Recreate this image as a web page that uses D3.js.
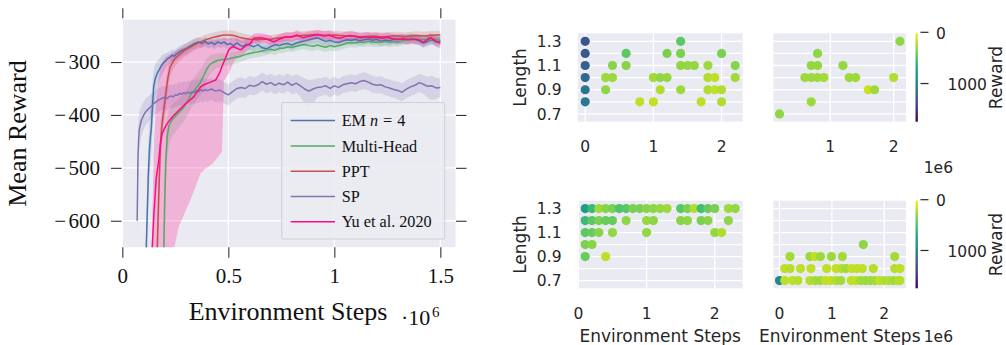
<!DOCTYPE html>
<html>
<head>
<meta charset="utf-8">
<script src="https://cdn.jsdelivr.net/npm/d3@7"></script>
<style>
  html, body { margin: 0; padding: 0; background: #ffffff; }
  svg { display: block; }
</style>
</head>
<body>
<svg id="fig" width="1006" height="345"></svg>
<script>
// ---------------------------------------------------------------
// Learning curves: [environment steps (1e6), mean reward, lower, upper]
// ---------------------------------------------------------------
const emCurve = [
  [0.108,-720,-760,-680],[0.113,-650,-700,-600],[0.118,-580,-640,-520],[0.123,-510,-570,-450],
  [0.128,-465,-520,-410],[0.133,-440,-490,-385],[0.137,-425,-470,-365],[0.142,-385,-430,-340],
  [0.148,-347,-385,-318],[0.155,-332,-365,-305],[0.165,-321,-348,-298],[0.175,-314,-336,-294],
  [0.185,-306,-326,-288],[0.195,-301,-318,-285],[0.205,-298,-312,-284],[0.212,-294,-307,-282],
  [0.225,-291,-303,-280],[0.235,-287,-299,-276],[0.245,-289,-300,-278],[0.255,-285,-296,-274],
  [0.27,-281,-292,-270],[0.285,-277,-288,-267],[0.30,-275,-285,-265],[0.315,-271,-281,-261],
  [0.33,-267,-277,-257],[0.345,-264,-274,-255],[0.36,-262,-271,-253],[0.375,-265,-274,-256],
  [0.39,-261,-270,-252],[0.405,-266,-275,-257],[0.42,-263,-272,-254],[0.435,-267,-276,-258],
  [0.45,-262,-271,-253],[0.465,-265,-274,-256],[0.48,-262,-271,-253],[0.495,-267,-276,-258],
  [0.51,-265,-274,-256],[0.525,-269,-278,-260],[0.54,-264,-273,-255],[0.555,-268,-277,-259],
  [0.57,-271,-280,-262],[0.585,-266,-275,-257],[0.60,-268,-277,-259],[0.62,-271,-280,-262],
  [0.64,-267,-276,-258],[0.66,-273,-282,-264],[0.68,-275,-284,-266],[0.70,-271,-281,-262],
  [0.72,-267,-276,-258],[0.74,-269,-278,-260],[0.76,-266,-275,-257],[0.78,-265,-274,-256],
  [0.80,-268,-277,-259],[0.82,-264,-273,-255],[0.84,-262,-271,-253],[0.86,-260,-269,-251],
  [0.88,-258,-267,-249],[0.90,-256,-265,-247],[0.92,-254,-263,-245],[0.94,-258,-267,-249],
  [0.96,-261,-270,-252],[0.98,-259,-268,-250],[1.00,-262,-271,-253],[1.02,-263,-272,-254],
  [1.04,-260,-269,-251],[1.06,-258,-267,-249],[1.08,-259,-268,-250],[1.10,-257,-266,-248],
  [1.12,-260,-269,-251],[1.14,-258,-267,-249],[1.16,-256,-265,-247],[1.18,-259,-268,-250],
  [1.20,-257,-266,-248],[1.22,-261,-270,-252],[1.24,-259,-268,-250],[1.26,-260,-269,-251],
  [1.28,-257,-266,-248],[1.30,-258,-267,-249],[1.32,-256,-265,-247],[1.34,-258,-267,-249],
  [1.36,-255,-264,-246],[1.38,-257,-266,-248],[1.40,-260,-269,-251],[1.42,-264,-273,-255],
  [1.44,-261,-270,-252],[1.46,-258,-267,-249],[1.48,-262,-271,-253],[1.50,-260,-269,-251]
];

const multiHeadCurve = [
  [0.190,-720,-760,-680],[0.196,-650,-700,-600],[0.200,-560,-620,-500],[0.205,-490,-540,-440],
  [0.212,-440,-480,-405],[0.22,-420,-455,-390],[0.235,-409,-440,-380],[0.259,-399,-428,-372],
  [0.285,-388,-415,-362],[0.306,-376,-402,-350],[0.322,-362,-388,-337],[0.345,-351,-376,-326],
  [0.369,-338,-362,-314],[0.385,-325,-348,-303],[0.40,-312,-333,-293],[0.415,-304,-322,-287],
  [0.431,-300,-316,-285],[0.45,-297,-311,-284],[0.47,-295,-308,-283],[0.494,-295,-307,-284],
  [0.52,-292,-304,-281],[0.55,-290,-301,-279],[0.572,-287,-298,-277],[0.60,-284,-294,-274],
  [0.62,-282,-292,-272],[0.636,-281,-291,-271],[0.66,-279,-289,-269],[0.68,-277,-287,-268],
  [0.70,-276,-285,-267],[0.72,-278,-287,-269],[0.74,-274,-283,-265],[0.76,-274,-283,-265],
  [0.78,-271,-280,-262],[0.80,-272,-281,-263],[0.82,-270,-279,-261],[0.84,-268,-277,-259],
  [0.86,-267,-276,-258],[0.88,-269,-278,-260],[0.90,-270,-279,-261],[0.92,-268,-277,-259],
  [0.94,-270,-279,-261],[0.96,-272,-281,-263],[0.98,-269,-278,-260],[1.00,-271,-280,-262],
  [1.02,-269,-278,-260],[1.04,-267,-276,-258],[1.06,-264,-273,-255],[1.08,-263,-272,-254],
  [1.10,-264,-273,-255],[1.12,-262,-271,-253],[1.14,-263,-272,-254],[1.16,-261,-270,-252],
  [1.18,-262,-271,-253],[1.20,-263,-272,-254],[1.22,-262,-271,-253],[1.24,-261,-270,-252],
  [1.26,-263,-272,-254],[1.28,-261,-270,-252],[1.30,-262,-271,-253],[1.32,-260,-269,-251],
  [1.34,-258,-267,-249],[1.36,-255,-264,-246],[1.38,-256,-265,-247],[1.40,-258,-267,-249],
  [1.42,-257,-266,-248],[1.44,-259,-268,-250],[1.46,-257,-266,-248],[1.48,-258,-267,-249],
  [1.50,-259,-268,-250]
];

const pptCurve = [
  [0.158,-720,-760,-680],[0.165,-650,-700,-600],[0.172,-550,-610,-500],[0.180,-453,-500,-415],
  [0.188,-415,-450,-385],[0.196,-391,-420,-365],[0.205,-360,-385,-340],[0.215,-330,-352,-312],
  [0.225,-310,-328,-295],[0.245,-295,-310,-282],[0.26,-289,-303,-277],[0.275,-284,-297,-272],
  [0.29,-279,-291,-268],[0.305,-275,-287,-264],[0.32,-272,-283,-261],[0.345,-266,-277,-256],
  [0.369,-262,-273,-252],[0.40,-257,-267,-247],[0.432,-253,-263,-244],[0.455,-251,-260,-242],
  [0.479,-249,-258,-240],[0.50,-249,-258,-240],[0.526,-250,-259,-241],[0.55,-253,-262,-244],
  [0.573,-255,-264,-246],[0.60,-257,-265,-249],[0.636,-258,-266,-250],[0.67,-257,-265,-249],
  [0.70,-257,-265,-249],[0.73,-255,-263,-247],[0.76,-253,-261,-245],[0.79,-252,-260,-244],
  [0.82,-251,-259,-243],[0.85,-250,-258,-242],[0.88,-249,-257,-241],[0.91,-248,-256,-240],
  [0.94,-249,-257,-241],[0.97,-250,-258,-242],[1.00,-249,-257,-241],[1.03,-250,-258,-242],
  [1.06,-251,-259,-243],[1.09,-251,-259,-243],[1.12,-252,-260,-244],[1.15,-252,-260,-244],
  [1.18,-251,-259,-243],[1.21,-252,-260,-244],[1.24,-252,-260,-244],[1.27,-251,-259,-243],
  [1.30,-251,-259,-243],[1.33,-252,-260,-244],[1.36,-251,-259,-243],[1.39,-250,-258,-242],
  [1.42,-251,-259,-243],[1.45,-250,-258,-242],[1.48,-249,-257,-241],[1.50,-249,-257,-241]
];

const spCurve = [
  [0.070,-600,-640,-560],[0.072,-540,-590,-495],[0.074,-480,-525,-440],[0.077,-445,-485,-410],
  [0.080,-428,-465,-395],[0.085,-418,-450,-388],[0.09,-410,-440,-382],[0.10,-401,-428,-375],
  [0.11,-394,-420,-369],[0.12,-390,-415,-366],[0.13,-386,-410,-362],[0.14,-382,-405,-359],
  [0.15,-378,-401,-356],[0.16,-375,-398,-353],[0.17,-372,-395,-350],[0.18,-370,-392,-348],
  [0.19,-368,-390,-346],[0.20,-367,-389,-345],[0.21,-369,-391,-347],[0.22,-366,-388,-344],
  [0.23,-364,-386,-342],[0.24,-366,-388,-344],[0.25,-362,-384,-340],[0.26,-363,-385,-341],
  [0.27,-359,-381,-337],[0.28,-361,-383,-339],[0.29,-358,-380,-336],[0.30,-360,-382,-338],
  [0.31,-357,-379,-335],[0.32,-359,-381,-337],[0.33,-356,-378,-334],[0.34,-358,-380,-336],
  [0.35,-354,-376,-332],[0.36,-356,-378,-334],[0.37,-352,-374,-330],[0.38,-355,-377,-333],
  [0.39,-352,-373,-331],[0.40,-354,-375,-333],[0.42,-351,-372,-330],[0.44,-355,-376,-334],
  [0.46,-353,-374,-332],[0.48,-358,-378,-338],[0.50,-362,-382,-342],[0.52,-356,-375,-337],
  [0.54,-350,-369,-331],[0.56,-348,-367,-329],[0.58,-350,-368,-332],[0.60,-344,-362,-326],
  [0.62,-346,-363,-329],[0.64,-343,-360,-326],[0.66,-337,-354,-320],[0.68,-342,-359,-325],
  [0.70,-339,-356,-322],[0.72,-344,-361,-327],[0.74,-340,-357,-323],[0.76,-343,-360,-326],
  [0.78,-338,-355,-321],[0.80,-344,-362,-327],[0.82,-340,-358,-323],[0.84,-345,-366,-327],
  [0.86,-351,-378,-331],[0.88,-355,-386,-334],[0.90,-351,-378,-333],[0.92,-348,-366,-331],
  [0.94,-347,-364,-330],[0.96,-345,-362,-328],[0.98,-350,-367,-333],[1.00,-345,-362,-328],
  [1.02,-348,-364,-332],[1.04,-343,-359,-327],[1.06,-341,-357,-325],[1.08,-339,-355,-323],
  [1.10,-341,-357,-325],[1.12,-337,-353,-321],[1.14,-335,-351,-319],[1.16,-338,-354,-322],
  [1.18,-342,-358,-326],[1.20,-344,-360,-328],[1.22,-343,-359,-327],[1.24,-347,-363,-331],
  [1.26,-349,-365,-333],[1.28,-352,-368,-336],[1.30,-354,-371,-337],[1.32,-357,-374,-340],
  [1.34,-351,-368,-334],[1.36,-347,-364,-330],[1.38,-344,-361,-327],[1.40,-339,-356,-322],
  [1.42,-342,-360,-325],[1.44,-346,-368,-328],[1.46,-345,-372,-326],[1.48,-349,-370,-330],
  [1.50,-348,-366,-330]
];

const yuCurve = [
  [0.138,-720,-760,-680],[0.141,-650,-720,-600],[0.150,-580,-720,-450],[0.160,-520,-720,-370],
  [0.172,-485,-720,-330],[0.180,-455,-720,-310],[0.188,-435,-720,-300],[0.20,-425,-720,-292],
  [0.212,-416,-700,-288],[0.24,-402,-660,-282],[0.267,-391,-610,-276],[0.30,-378,-580,-271],
  [0.337,-366,-545,-267],[0.369,-347,-510,-263],[0.39,-342,-502,-261],[0.416,-338,-495,-260],
  [0.44,-334,-485,-259],[0.46,-320,-475,-258],[0.47,-308,-470,-257],[0.479,-300,-335,-256],
  [0.502,-277,-322,-255],[0.515,-272,-310,-254],[0.526,-271,-300,-254],[0.54,-274,-293,-255],
  [0.557,-277,-290,-258],[0.58,-270,-282,-256],[0.604,-265,-274,-253],[0.62,-255,-264,-246],
  [0.645,-254,-263,-245],[0.667,-255,-264,-246],[0.69,-258,-267,-249],[0.714,-262,-271,-253],
  [0.74,-257,-266,-248],[0.76,-254,-263,-245],[0.777,-252,-261,-243],[0.80,-253,-262,-244],
  [0.824,-249,-258,-240],[0.85,-254,-263,-245],[0.875,-252,-261,-243],[0.90,-250,-259,-241],
  [0.925,-248,-257,-239],[0.95,-251,-260,-242],[0.975,-249,-258,-240],[1.00,-253,-262,-244],
  [1.025,-255,-264,-246],[1.05,-252,-261,-243],[1.075,-250,-259,-241],[1.10,-252,-261,-243],
  [1.125,-254,-263,-245],[1.15,-252,-261,-243],[1.175,-254,-263,-245],[1.20,-253,-262,-244],
  [1.225,-255,-264,-246],[1.25,-253,-262,-244],[1.275,-256,-265,-247],[1.30,-257,-266,-248],
  [1.325,-256,-265,-247],[1.35,-258,-267,-249],[1.375,-257,-266,-248],[1.40,-258,-267,-249],
  [1.42,-263,-272,-254],[1.44,-257,-266,-248],[1.455,-254,-263,-245],[1.47,-258,-267,-249],
  [1.485,-262,-272,-252],[1.50,-264,-274,-254]
];

const curveNames  = ["EM n = 4", "Multi-Head", "PPT", "SP", "Yu et al. 2020"];
const curveColors = ["#4c72b0", "#55a868", "#c44e52", "#8172b3", "#ff0a84"];
const stepTicks   = [0, 0.5, 1, 1.5];
const rewardTicks = [-600, -500, -400, -300];

// ---------------------------------------------------------------
// Sampled levels: [environment steps (1e6), length, reward]
// ---------------------------------------------------------------
const levelsTopLeft = [
  [0,0.8,1035],[0.8,0.8,173],[1.0,0.8,156],[1.7,0.8,173],[2.0,0.8,208],
  [0,0.9,1052],[0.3,0.9,294],[1.1,0.9,208],[1.4,0.9,260],[1.8,0.9,208],[1.9,0.9,173],[2.0,0.9,208],
  [0,1.0,1142],[0.3,1.0,260],[0.4,1.0,260],[1.0,1.0,242],[1.1,1.0,294],[1.2,1.0,277],[1.8,1.0,208],[1.9,1.0,173],[2.2,1.0,242],
  [0,1.1,1194],[0.4,1.1,311],[0.6,1.1,311],[1.4,1.1,294],[1.5,1.1,277],[1.6,1.1,277],[1.8,1.1,260],[2.2,1.1,311],
  [0,1.2,1242],[0.6,1.2,433],[1.2,1.2,346],[1.4,1.2,346],[2.0,1.2,346],
  [0,1.3,1277],[1.4,1.3,433]
];
const levelsTopRight = [
  [0.2,0.7,294],
  [0.7,0.8,260],
  [1.6,0.9,138],[1.7,0.9,260],
  [0.6,1.0,260],[0.7,1.0,260],[0.8,1.0,260],[0.9,1.0,242],[1.3,1.0,260],[1.4,1.0,260],[2.0,1.0,208],
  [0.7,1.1,277],[0.8,1.1,277],[1.2,1.1,277],
  [0.8,1.2,294],
  [2.1,1.3,294]
];
const levelsBottomLeft = [
  [0.1,0.9,398],[0.4,0.9,173],
  [0.1,1.0,346],[0.2,1.0,311],
  [0.1,1.1,433],[0.2,1.1,398],[0.3,1.1,311],[0.5,1.1,277],[1.0,1.1,277],[2.0,1.1,277],[2.1,1.1,208],
  [0.1,1.2,554],[0.2,1.2,433],[0.3,1.2,346],[0.4,1.2,398],[0.5,1.2,398],[0.7,1.2,294],[1.0,1.2,277],
  [1.1,1.2,294],[1.5,1.2,311],[1.6,1.2,294],[1.8,1.2,346],[1.9,1.2,311],[2.2,1.2,294],
  [0.1,1.3,779],[0.2,1.3,554],[0.3,1.3,260],[0.4,1.3,311],[0.5,1.3,346],[0.6,1.3,484],[0.7,1.3,450],
  [0.8,1.3,346],[0.9,1.3,346],[1.0,1.3,311],[1.1,1.3,294],[1.2,1.3,277],[1.3,1.3,260],[1.5,1.3,450],
  [1.6,1.3,346],[1.7,1.3,208],[1.8,1.3,519],[1.9,1.3,398],[2.0,1.3,346],[2.2,1.3,260],[2.3,1.3,277]
];
const levelsBottomRight = [
  [0,0.7,917],[0.1,0.7,173],[0.25,0.7,173],[0.35,0.7,190],[0.58,0.7,190],[0.68,0.7,242],[0.78,0.7,260],
  [0.88,0.7,173],[0.98,0.7,156],[1.08,0.7,208],[1.17,0.7,242],[1.37,0.7,173],[1.46,0.7,156],[1.55,0.7,242],
  [1.64,0.7,260],[1.73,0.7,260],[1.82,0.7,242],[1.91,0.7,173],[2.0,0.7,208],[2.09,0.7,208],[2.18,0.7,242],
  [2.27,0.7,208],[2.3,0.7,190],
  [0.1,0.8,173],[0.2,0.8,190],[0.4,0.8,173],[0.6,0.8,173],[0.9,0.8,173],[1.08,0.8,156],[1.18,0.8,190],
  [1.27,0.8,242],[1.38,0.8,156],[1.48,0.8,173],[1.58,0.8,173],[1.79,0.8,190],[2.2,0.8,190],[2.3,0.8,173],
  [0.2,0.9,242],[0.58,0.9,260],[0.68,0.9,156],[0.78,0.9,260],[0.99,0.9,260],[1.2,0.9,242],[2.2,0.9,242],
  [1.6,1.0,294]
];
const lengthGrid   = [0.7, 0.8, 0.9, 1.0, 1.1, 1.2, 1.3];
const lengthLabels = [0.7, 0.9, 1.1, 1.3];
const levelStepTicks = [0, 1, 2];
const colorbarTicks  = [0, 1000];
const rewardColorMax = 1725;

// ---------------------------------------------------------------
const fig = d3.select("#fig");
const defs = fig.append("defs");
const serif = "'Liberation Serif', 'Times New Roman', serif";
const sans  = "'DejaVu Sans', 'Liberation Sans', sans-serif";
const ink = "#262626";

// ===== Left: mean reward over training =====
const cp = { left: 122, right: 455.5, top: 19.7, bottom: 247.2 };
const xSteps  = d3.scaleLinear().domain([-0.0015, 1.5715]).range([cp.left, cp.right]);
const yReward = d3.scaleLinear().domain([-650, -220]).range([cp.bottom, cp.top]);

const left = fig.append("g");
left.append("rect")
  .attr("x", cp.left).attr("y", cp.top)
  .attr("width", cp.right - cp.left).attr("height", cp.bottom - cp.top)
  .attr("fill", "#eaeaf2");

left.append("g").selectAll("line").data(stepTicks).join("line")
  .attr("x1", d => xSteps(d)).attr("x2", d => xSteps(d))
  .attr("y1", cp.top).attr("y2", cp.bottom)
  .attr("stroke", "#ffffff").attr("stroke-width", 1.3);
left.append("g").selectAll("line").data(rewardTicks).join("line")
  .attr("x1", cp.left).attr("x2", cp.right)
  .attr("y1", d => yReward(d)).attr("y2", d => yReward(d))
  .attr("stroke", "#ffffff").attr("stroke-width", 1.3);

defs.append("clipPath").attr("id", "curveClip").append("rect")
  .attr("x", cp.left).attr("y", cp.top)
  .attr("width", cp.right - cp.left).attr("height", cp.bottom - cp.top);

const curves = [emCurve, multiHeadCurve, pptCurve, spCurve, yuCurve];
const band = d3.area()
  .x(d => xSteps(d[0])).y0(d => yReward(d[2])).y1(d => yReward(d[3]));
const meanLine = d3.line()
  .x(d => xSteps(d[0])).y(d => yReward(d[1]));

const plot = left.append("g").attr("clip-path", "url(#curveClip)");
curves.forEach((c, i) => {
  plot.append("path").datum(c).attr("d", band)
    .attr("fill", curveColors[i]).attr("fill-opacity", i === 4 ? 0.24 : 0.2);
});
curves.forEach((c, i) => {
  plot.append("path").datum(c).attr("d", meanLine)
    .attr("fill", "none").attr("stroke", curveColors[i])
    .attr("stroke-width", 1.5).attr("stroke-linejoin", "round");
});

function styleTicks(g) {
  g.select(".domain").remove();
  g.selectAll(".tick line").attr("stroke", "#333333").attr("stroke-width", 1.1);
}
const fmtStep = d => d === 0 ? "0" : String(d);

left.append("g").attr("transform", `translate(0,${cp.bottom})`)
  .call(d3.axisBottom(xSteps).tickValues(stepTicks).tickSize(10.5).tickFormat(fmtStep))
  .call(styleTicks)
  .call(g => g.selectAll("text").attr("y", 36.2).attr("dy", null)
    .attr("font-family", serif).attr("font-size", 21).attr("fill", "#111"));
left.append("g").attr("transform", `translate(0,${cp.top - 1.5})`)
  .call(d3.axisTop(xSteps).tickValues(stepTicks).tickSize(10).tickFormat(""))
  .call(styleTicks);
left.append("g").attr("transform", `translate(${cp.left - 0.5},0)`)
  .call(d3.axisLeft(yReward).tickValues(rewardTicks).tickSize(10.5).tickPadding(11).tickFormat(""))
  .call(styleTicks)
  .call(g => g.selectAll(".tick text").each(function(d) {
    // minus sign set a little apart from the digits, as in TeX math
    const t = d3.select(this).attr("font-family", serif).attr("font-size", 21)
      .attr("fill", "#111").attr("dy", "0.33em");
    t.append("tspan").text(d < 0 ? "\u2212" : "");
    t.append("tspan").attr("dx", 2.5).text(Math.abs(d));
  }));
left.append("g").attr("transform", `translate(${cp.right + 0.5},0)`)
  .call(d3.axisRight(yReward).tickValues(rewardTicks).tickSize(10.5).tickFormat(""))
  .call(styleTicks);

left.append("text")
  .attr("transform", "translate(25.5,133.5) rotate(-90)")
  .attr("text-anchor", "middle").attr("font-family", serif).attr("font-size", 26).attr("fill", "#111")
  .text("Mean Reward");
left.append("text")
  .attr("x", 288).attr("y", 320)
  .attr("text-anchor", "middle").attr("font-family", serif).attr("font-size", 26).attr("fill", "#111")
  .text("Environment Steps");
const mult = left.append("text").attr("font-family", serif).attr("fill", "#111");
mult.append("tspan").attr("x", 401).attr("y", 325).attr("font-size", 22).text("\u00b710");
mult.append("tspan").attr("x", 432).attr("y", 316.5).attr("font-size", 15).text("6");

// legend
const lg = left.append("g");
lg.append("rect")
  .attr("x", 281.7).attr("y", 102.5).attr("width", 163).attr("height", 136.5)
  .attr("rx", 1.5)
  .attr("fill", "#ebebf2").attr("fill-opacity", 0.85)
  .attr("stroke", "#cfcfd6").attr("stroke-width", 1);
const legendRow = i => 120.6 + i * 25.3;
curveNames.forEach((name, i) => {
  lg.append("line")
    .attr("x1", 290.7).attr("x2", 335).attr("y1", legendRow(i)).attr("y2", legendRow(i))
    .attr("stroke", curveColors[i]).attr("stroke-width", 1.5);
  const t = lg.append("text").attr("x", 341.7).attr("y", legendRow(i) + 5.6)
    .attr("font-family", serif).attr("font-size", 16.2).attr("fill", "#111");
  const m = name.match(/^EM n = (\d+)$/);
  if (m) {
    t.append("tspan").text("EM ");
    t.append("tspan").attr("font-style", "italic").text("n");
    t.append("tspan").attr("dx", 5).text("=");
    t.append("tspan").attr("dx", 5).text(m[1]);
  } else {
    t.text(name);
  }
});

// ===== Right: sampled level lengths coloured by reward =====
const lengthDomain = [0.636, 1.366];
const rewardColor = d3.scaleSequential(d3.interpolateViridis).domain([rewardColorMax, 0]);

const panels = [
  { levels: levelsTopLeft,     box: [577.7, 33.3, 742.7, 121.7],  col: 0, row: 0 },
  { levels: levelsTopRight,    box: [773.5, 33.3, 906, 121.7],    col: 1, row: 0 },
  { levels: levelsBottomLeft,  box: [577.7, 200.7, 742.7, 288.3], col: 0, row: 1 },
  { levels: levelsBottomRight, box: [773.5, 200.7, 906, 288.3],   col: 1, row: 1 }
];

panels.forEach(p => {
  const [x0, y0, x1, y1] = p.box;
  const ext = d3.extent(p.levels, d => d[0]);
  const pad = (ext[1] - ext[0]) * 0.05;
  const xs = d3.scaleLinear().domain([ext[0] - pad, ext[1] + pad]).range([x0, x1]);
  const ys = d3.scaleLinear().domain(lengthDomain).range([y1, y0]);
  const g = fig.append("g");

  g.append("rect").attr("x", x0).attr("y", y0).attr("width", x1 - x0).attr("height", y1 - y0)
    .attr("fill", "#eaeaf2");
  const xt = levelStepTicks.filter(t => t >= xs.domain()[0] && t <= xs.domain()[1]);
  g.append("g").selectAll("line").data(lengthGrid).join("line")
    .attr("x1", x0).attr("x2", x1).attr("y1", d => ys(d)).attr("y2", d => ys(d))
    .attr("stroke", "#ffffff").attr("stroke-width", 1.3);
  g.append("g").selectAll("line").data(xt).join("line")
    .attr("x1", d => xs(d)).attr("x2", d => xs(d)).attr("y1", y0).attr("y2", y1)
    .attr("stroke", "#ffffff").attr("stroke-width", 1.3);

  g.append("g").selectAll("circle").data(p.levels).join("circle")
    .attr("cx", d => xs(d[0])).attr("cy", d => ys(d[1])).attr("r", 4.6)
    .attr("fill", d => rewardColor(d[2]));

  g.append("g").selectAll("text").data(xt).join("text")
    .attr("x", d => xs(d)).attr("y", y1 + (p.row === 0 ? 30 : 30.7))
    .attr("text-anchor", "middle").attr("font-family", sans).attr("font-size", 15.5).attr("fill", ink)
    .text(d => d);

  if (p.col === 0) {
    g.append("g").selectAll("text").data(lengthLabels).join("text")
      .attr("x", 561.5).attr("y", d => ys(d)).attr("dy", "0.36em")
      .attr("text-anchor", "end").attr("font-family", sans).attr("font-size", 15.5).attr("fill", ink)
      .text(d => d.toFixed(1));
    g.append("text")
      .attr("transform", `translate(525.5,${(y0 + y1) / 2}) rotate(-90)`)
      .attr("text-anchor", "middle").attr("font-family", sans).attr("font-size", 17).attr("fill", ink)
      .text("Length");
  }
  if (p.row === 1) {
    g.append("text")
      .attr("x", (x0 + x1) / 2).attr("y", 341.5)
      .attr("text-anchor", "middle").attr("font-family", sans).attr("font-size", 17).attr("fill", ink)
      .text("Environment Steps");
  }
  if (p.col === 1) {
    g.append("text")
      .attr("x", 953).attr("y", p.row === 0 ? 173.3 : 341.5)
      .attr("text-anchor", "end").attr("font-family", sans).attr("font-size", 15.5).attr("fill", ink)
      .text("1e6");

    // colour bar for this row
    const cb = d3.scaleLinear().domain([0, rewardColorMax]).range([y0, y1]);
    const gid = "cbar" + p.row;
    const grad = defs.append("linearGradient").attr("id", gid)
      .attr("x1", 0).attr("y1", 0).attr("x2", 0).attr("y2", 1);
    d3.range(0, 1.0001, 0.1).forEach(f => {
      grad.append("stop").attr("offset", f)
        .attr("stop-color", rewardColor(f * rewardColorMax));
    });
    g.append("rect").attr("x", 915.5).attr("y", y0).attr("width", 2.4).attr("height", y1 - y0)
      .attr("fill", `url(#${gid})`);
    g.append("g").selectAll("line").data(colorbarTicks).join("line")
      .attr("x1", 920.5).attr("x2", 928.5).attr("y1", d => cb(d) - 1).attr("y2", d => cb(d) - 1)
      .attr("stroke", ink).attr("stroke-width", 1.2);
    g.append("g").selectAll("text").data(colorbarTicks).join("text")
      .attr("x", d => d === 0 ? 936 : 947.5).attr("y", d => cb(d)).attr("dy", "0.36em")
      .attr("font-family", sans).attr("font-size", 15.5).attr("fill", ink)
      .text(d => d);
    g.append("text")
      .attr("transform", `translate(1001.5,${(y0 + y1) / 2}) rotate(-90)`)
      .attr("text-anchor", "middle").attr("font-family", sans).attr("font-size", 17).attr("fill", ink)
      .text("Reward");
  }
});
</script>
</body>
</html>
